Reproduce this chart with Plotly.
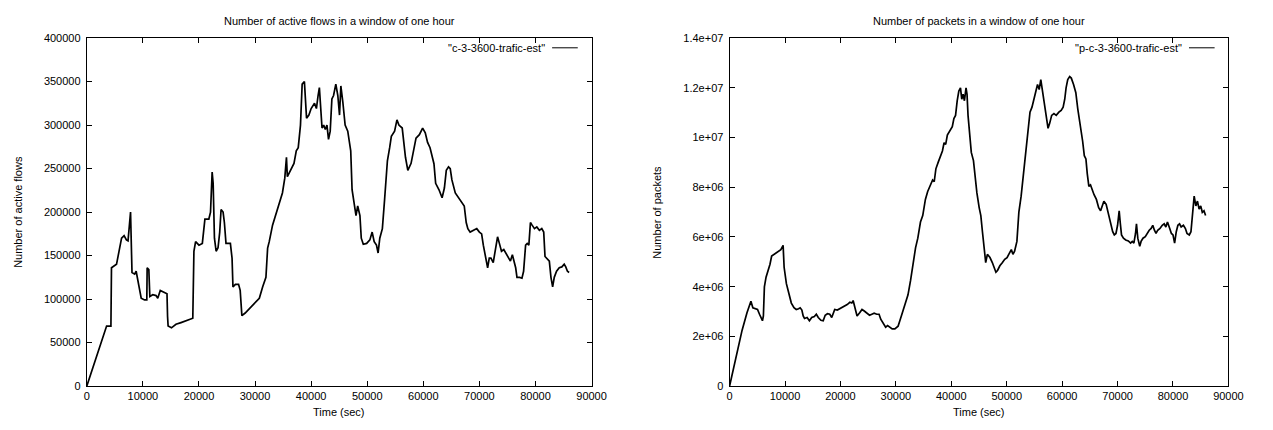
import plotly.graph_objects as go

# ---------------- data ----------------
flows_t = [0, 3530, 4300, 4400, 5300, 5600, 6200, 6650, 7060, 7350, 7650, 7800, 8060, 8530, 8800,
           9100, 9400, 9700, 10300, 10700, 10760, 11060, 11240, 11760, 12350, 12650, 13100, 13700,
           14300, 14400, 14500, 15100, 15900, 16800, 17650, 18700, 18900, 19100, 19400, 20000, 20600,
           21060, 21760, 22060, 22350, 22530, 22760, 23060, 23400, 23700, 23940, 24300, 24530, 24820,
           25600, 25900, 26060, 26500, 27060, 27350, 27650, 28240, 29100, 30000, 30760, 31350, 31940,
           32240, 32530, 33120, 33700, 34300, 34880, 35300, 35600, 35760, 36350, 36940, 37350, 37700,
           38100, 38400, 38800, 39180, 39600, 40000, 40600, 40940, 41240, 41470, 41940, 42240, 42530,
           42820, 43100, 43400, 43700, 44000, 44400, 44760, 45060, 45300, 45650, 46060, 46530, 46760,
           47060, 47300, 47700, 48000, 48300, 48700, 48940, 49300, 49900, 50470, 50880, 51240, 51650,
           51940, 52240, 52700, 53100, 53600, 54000, 54300, 54880, 55300, 55650, 56240, 56820, 57240,
           57820, 58300, 58700, 59300, 59880, 60350, 60760, 61200, 61600, 61900, 62200, 62800, 63350,
           63760, 64100, 64500, 64800, 65100, 65700, 66300, 66900, 67300, 67650, 67940, 68350, 68940,
           69530, 70000, 70400, 70700, 71100, 71470, 71760, 72060, 72470, 72760, 73240, 73650, 73940,
           74350, 74820, 75240, 75530, 75880, 76180, 76470, 76700, 77180, 77590, 77880, 78240, 78530,
           78820, 79100, 79400, 79820, 80240, 80700, 81120, 81470, 81700, 82060, 82470, 82760, 83060,
           83350, 83760, 84240, 84700, 85120, 85400, 85700, 86000]
flows_v = [0, 69000, 69000, 136000, 140000, 151000, 170000, 173000, 168000, 167000, 185000, 200000,
           130600, 128700, 132000, 121000, 114000, 101000, 99000, 99000, 136000, 134000, 103000,
           105000, 104000, 101000, 110000, 108000, 106000, 80000, 69000, 67000, 71000, 73000, 75000,
           78000, 78000, 155000, 166000, 162000, 164000, 192000, 192000, 200000, 246000, 233000,
           170000, 155000, 159000, 177000, 203000, 200000, 188000, 164000, 164000, 147000, 114000,
           117000, 117000, 110000, 81000, 84000, 89500, 95000, 101000, 114000, 125000, 158600, 166000,
           185000, 198000, 211000, 222000, 239000, 263000, 240700, 248000, 256000, 270500, 274000,
           300000, 347000, 350000, 308000, 311500, 319000, 325000, 319000, 334000, 343000, 296600,
           300000, 295000, 300000, 283600, 293000, 330000, 334000, 347000, 334000, 311500, 345000,
           326500, 300000, 293000, 281700, 270500, 225700, 211000, 196000, 207000, 196000, 170000,
           163000, 164000, 168000, 177000, 166000, 162000, 153000, 170000, 181000, 214600, 259000,
           274000, 287000, 293000, 306000, 300000, 296600, 263000, 248000, 256000, 270500, 285000,
           289000, 296600, 291000, 280000, 274000, 261000, 255600, 233000, 225700, 216400, 227600,
           248000, 252000, 250000, 237000, 222000, 216400, 211000, 207000, 188000, 181000, 177000,
           179000, 181000, 177000, 175000, 162000, 147000, 136000, 147000, 147000, 142000, 155000,
           171600, 162000, 155000, 157000, 151000, 145500, 143700, 151000, 143700, 136000, 125000,
           125000, 124000, 132000, 162000, 164000, 162000, 188000, 185000, 181000, 183000, 179000,
           181000, 177000, 149000, 147000, 143700, 125000, 114000, 125000, 132000, 136000, 137000,
           140000, 137000, 132000, 130600]

pkts_t = [0, 470, 1360, 2250, 3140, 3850, 4200, 4620, 5040, 5400, 5690, 5930, 6100, 6280, 6580, 7000,
          7290, 7590, 8060, 8480, 8890, 9250, 9660, 9840, 10250, 10730, 11140, 11620, 12030, 12450,
          12740, 13040, 13280, 13520, 13990, 14400, 14820, 15290, 15650, 16000, 16480, 16890, 17250,
          17660, 18080, 18430, 18730, 18970, 19440, 19860, 20330, 20750, 21220, 21700, 22050, 22290,
          22700, 23000, 23470, 23890, 24300, 24780, 25250, 25670, 26080, 26560, 26970, 27270, 27740,
          28160, 28510, 28930, 29340, 29820, 30400, 30990, 31600, 32190, 32660, 33080, 33550, 33960,
          34440, 34850, 35330, 35740, 36210, 36630, 36920, 37220, 37630, 37990, 38400, 38700, 38990,
          39290, 39700, 40180, 40470, 40770, 41070, 41360, 41660, 41890, 42130, 42370, 42660, 42840,
          43020, 43310, 43610, 44000, 44200, 44620, 45030, 45330, 45620, 45920, 46210, 46510, 46980,
          47400, 47750, 48050, 48340, 48760, 49230, 49640, 50060, 50410, 50830, 51120, 51420, 51840,
          52190, 52600, 53020, 53370, 53790, 54200, 54560, 54970, 55270, 55560, 55860, 56150, 56330,
          56570, 56860, 57160, 57460, 57750, 58110, 58520, 58930, 59410, 59820, 60180, 60470, 60710,
          61010, 61360, 61650, 62060, 62470, 62820, 63120, 63410, 63700, 64000, 64290, 64530, 64820,
          65120, 65410, 65760, 66180, 66590, 66940, 67240, 67530, 67940, 68240, 68530, 68820, 69120,
          69410, 69710, 70000, 70290, 70470, 70710, 71060, 71470, 71940, 72350, 72650, 72940, 73240,
          73410, 73650, 74000, 74240, 74590, 75000, 75290, 75710, 76060, 76350, 76650, 76940, 77240,
          77650, 78060, 78410, 78710, 79000, 79410, 79710, 80000, 80290, 80590, 80880, 81180, 81470,
          81880, 82240, 82530, 82940, 83240, 83530, 83820, 84120, 84410, 84710, 85000, 85290, 85590,
          85880]
pkts_v = [0, 0.48e6, 1.26e6, 2.24e6, 2.95e6, 3.41e6, 3.15e6, 3.11e6, 3.08e6, 2.89e6, 2.76e6, 2.63e6,
          2.82e6, 3.99e6, 4.38e6, 4.65e6, 4.9e6, 5.23e6, 5.3e6, 5.36e6, 5.43e6, 5.49e6, 5.66e6, 4.78e6,
          4.12e6, 3.73e6, 3.34e6, 3.15e6, 3.08e6, 3.11e6, 3.15e6, 3.06e6, 2.82e6, 2.72e6, 2.76e6,
          2.63e6, 2.76e6, 2.8e6, 2.89e6, 2.76e6, 2.65e6, 2.63e6, 2.85e6, 2.91e6, 2.89e6, 2.76e6,
          2.95e6, 3.08e6, 3.06e6, 3.11e6, 3.15e6, 3.21e6, 3.28e6, 3.37e6, 3.34e6, 3.44e6, 3.02e6,
          2.82e6, 2.95e6, 3.08e6, 3.02e6, 2.95e6, 2.85e6, 2.89e6, 2.93e6, 2.89e6, 2.89e6, 2.69e6,
          2.5e6, 2.37e6, 2.43e6, 2.37e6, 2.3e6, 2.3e6, 2.41e6, 2.82e6, 3.21e6, 3.67e6, 4.26e6, 4.9e6,
          5.56e6, 5.95e6, 6.6e6, 6.86e6, 7.51e6, 7.83e6, 8.09e6, 8.29e6, 8.22e6, 8.74e6, 9.0e6,
          9.2e6, 9.46e6, 9.79e6, 9.72e6, 10.1e6, 10.24e6, 10.44e6, 10.76e6, 10.89e6, 11.48e6,
          11.87e6, 12.0e6, 11.54e6, 11.74e6, 11.48e6, 12.0e6, 11.74e6, 10.89e6, 9.98e6, 9.4e6,
          9.07e6, 8.55e6, 7.77e6, 7.18e6, 6.86e6, 6.21e6, 5.56e6, 4.97e6, 5.3e6, 5.17e6, 4.97e6,
          4.71e6, 4.58e6, 4.65e6, 4.84e6, 4.97e6, 5.1e6, 5.17e6, 5.3e6, 5.49e6, 5.3e6, 5.43e6,
          5.82e6, 6.99e6, 7.64e6, 8.55e6, 9.33e6, 10.11e6, 11.02e6, 11.22e6, 11.54e6, 11.87e6,
          12.13e6, 11.93e6, 12.33e6, 12.06e6, 11.67e6, 11.15e6, 10.63e6, 10.37e6, 10.57e6, 10.89e6,
          10.96e6, 10.89e6, 11.02e6, 11.09e6, 11.22e6, 11.54e6, 12.0e6, 12.33e6, 12.45e6, 12.39e6,
          12.13e6, 11.8e6, 11.15e6, 10.76e6, 10.24e6, 9.85e6, 9.27e6, 9.14e6, 8.55e6, 8.03e6,
          8.09e6, 7.9e6, 7.7e6, 7.51e6, 7.18e6, 7.05e6, 7.25e6, 7.44e6, 7.31e6, 7.05e6, 6.79e6,
          6.47e6, 6.21e6, 6.08e6, 6.14e6, 6.47e6, 7.05e6, 6.6e6, 6.08e6, 5.95e6, 5.88e6, 5.84e6,
          5.75e6, 5.82e6, 5.75e6, 6.14e6, 6.53e6, 5.95e6, 5.62e6, 5.82e6, 5.95e6, 6.01e6, 6.14e6,
          6.27e6, 6.34e6, 6.47e6, 6.27e6, 6.14e6, 6.27e6, 6.34e6, 6.47e6, 6.53e6, 6.4e6, 6.6e6,
          6.34e6, 6.14e6, 6.08e6, 5.75e6, 6.21e6, 6.47e6, 6.53e6, 6.4e6, 6.47e6, 6.34e6, 6.14e6,
          6.08e6, 6.21e6, 6.99e6, 7.64e6, 7.25e6, 7.44e6, 7.12e6, 7.25e6, 6.99e6, 7.05e6, 6.86e6]

x_ticks = [0, 10000, 20000, 30000, 40000, 50000, 60000, 70000, 80000, 90000]
flows_ticks = [0, 50000, 100000, 150000, 200000, 250000, 300000, 350000, 400000]
pkts_ticks = [0, 2e6, 4e6, 6e6, 8e6, 1e7, 1.2e7, 1.4e7]
pkts_ticktext = ["0", "2e+06", "4e+06", "6e+06", "8e+06", "1e+07", "1.2e+07", "1.4e+07"]

titles = ["Number of active flows in a window of one hour", "Number of packets in a window of one hour"]
ytitles = ["Number of active flows", "Number of packets"]
xtitle = "Time (sec)"
keys = ['"c-3-3600-trafic-est"', '"p-c-3-3600-trafic-est"']

# ---------------- layout geometry (window pixels) ----------------
W, H = 1273, 430
FONT = "Liberation Sans, Arial, Helvetica, sans-serif"


def px(sx):
    return sx / W


def py(sy):
    return 1 - sy / H


PANELS = [(85, 597), (737, 1243)]
TOP, BOTTOM = 33, 391

fig = go.Figure()
fig.add_trace(go.Scatter(x=flows_t, y=flows_v, mode="lines", line=dict(color="black", width=1.7),
                         xaxis="x", yaxis="y", showlegend=False, hoverinfo="skip"))
fig.add_trace(go.Scatter(x=pkts_t, y=pkts_v, mode="lines", line=dict(color="black", width=1.7),
                         xaxis="x2", yaxis="y2", showlegend=False, hoverinfo="skip"))

axis_common = dict(showgrid=False, zeroline=False, showline=True, linecolor="black", linewidth=1,
                   mirror="allticks", ticks="inside", ticklen=5, tickcolor="black", tickwidth=1,
                   tickfont=dict(family=FONT, size=11, color="black"))

dom_y = [py(BOTTOM), py(TOP)]
fig.update_layout(
    width=W, height=H, margin=dict(l=0, r=0, t=0, b=0),
    paper_bgcolor="white", plot_bgcolor="white",
    font=dict(family=FONT, size=11, color="black"),
    xaxis=dict(domain=[px(PANELS[0][0]), px(PANELS[0][1])], range=[0, 90000], tickvals=x_ticks,
               tickformat="d", anchor="y", **axis_common),
    yaxis=dict(domain=dom_y, range=[0, 400000], tickvals=flows_ticks, tickformat="d",
               anchor="x", ticklabelstandoff=3, **axis_common),
    xaxis2=dict(domain=[px(PANELS[1][0]), px(PANELS[1][1])], range=[0, 90000], tickvals=x_ticks,
                tickformat="d", anchor="y2", **axis_common),
    yaxis2=dict(domain=dom_y, range=[0, 1.4e7], tickvals=pkts_ticks, ticktext=pkts_ticktext,
                anchor="x2", ticklabelstandoff=3, **axis_common),
)

ann = []
shapes = []
for i, (left, right) in enumerate(PANELS):
    cx = px((left + right) / 2)
    ann.append(dict(text=titles[i], x=cx, y=py(15), xref="paper", yref="paper",
                    showarrow=False, font=dict(size=11), xanchor="center", yanchor="middle"))
    ann.append(dict(text=xtitle, x=cx, y=py(418), xref="paper", yref="paper",
                    showarrow=False, font=dict(size=11), xanchor="center", yanchor="middle"))
    ann.append(dict(text=keys[i], x=px(right - 45), y=py(43), xref="paper", yref="paper",
                    showarrow=False, font=dict(size=11), xanchor="right", yanchor="middle"))
    shapes.append(dict(type="line", xref="paper", yref="paper",
                       x0=px(right - 40), x1=px(right - 14), y0=py(43), y1=py(43),
                       line=dict(color="black", width=1)))
ann.append(dict(text=ytitles[0], x=px(15), y=py(212), xref="paper", yref="paper", textangle=-90,
                showarrow=False, font=dict(size=11), xanchor="center", yanchor="middle"))
ann.append(dict(text=ytitles[1], x=px(663), y=py(212), xref="paper", yref="paper", textangle=-90,
                showarrow=False, font=dict(size=11), xanchor="center", yanchor="middle"))
fig.update_layout(annotations=ann, shapes=shapes)

# remove the default page margin so the figure fills the window exactly
fig.write_html("out.html", config={"displayModeBar": False, "staticPlot": True},
               post_script="document.body.style.margin='0';"
                           "document.documentElement.style.overflow='hidden';")
